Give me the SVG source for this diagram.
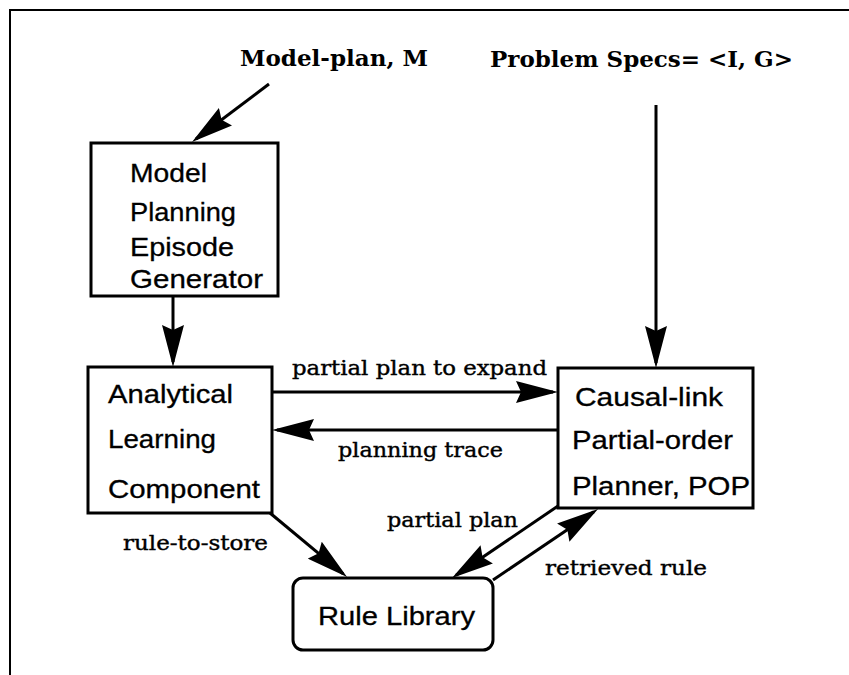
<svg xmlns="http://www.w3.org/2000/svg" width="849" height="675" viewBox="0 0 849 675">
  <style>
    .frame { fill: none; stroke: #000; stroke-width: 2; }
    .box { fill: #fff; stroke: #000; stroke-width: 3; }
    .btext { font-family: "Liberation Sans", Arial, sans-serif; font-size: 25px; fill: #000; stroke: #000; stroke-width: 0.3; }
    .title { font-family: "DejaVu Serif", "Liberation Serif", serif; font-weight: bold; font-size: 22px; fill: #000; }
    .label { font-family: "DejaVu Serif", "Liberation Serif", serif; font-size: 20px; fill: #000; stroke: #000; stroke-width: 0.4; }
    .edge { fill: none; stroke: #000; stroke-width: 3; marker-end: url(#head); }
  </style>
  <defs>
    <marker id="head" viewBox="0 0 42 22" refX="37" refY="11" markerWidth="42" markerHeight="22" markerUnits="userSpaceOnUse" orient="auto">
      <path d="M0,0 L42,11 L0,22 L5,11 Z" fill="#000"/>
    </marker>
  </defs>

  <rect width="849" height="675" fill="#fff"/>

  <!-- outer frame (open on the right and bottom) -->
  <path class="frame" d="M10,675 L10,10 L849,10"/>

  <!-- inputs -->
  <text class="title" x="240" y="66" textLength="188" lengthAdjust="spacingAndGlyphs">Model-plan, M</text>
  <text class="title" x="490" y="67" textLength="303" lengthAdjust="spacingAndGlyphs">Problem Specs= &lt;I, G&gt;</text>

  <g id="connectors">
    <path class="edge" d="M269,84 L196,139"/>
    <path class="edge" d="M173,296 L173,362"/>
    <path class="edge" d="M656,105 L656,363"/>
    <path class="edge" d="M272,392 L553,392"/>
    <path class="edge" d="M558,430 L277,430"/>
    <path class="edge" d="M270,513 L343.2,573.8"/>
    <path class="edge" d="M558,506 L456.1,575.2"/>
    <path class="edge" d="M493,580 L593.9,511.8"/>

    <text class="label" x="292" y="375" textLength="255" lengthAdjust="spacingAndGlyphs">partial plan to expand</text>
    <text class="label" x="338" y="457" textLength="165" lengthAdjust="spacingAndGlyphs">planning trace</text>
    <text class="label" x="123" y="550" textLength="145" lengthAdjust="spacingAndGlyphs">rule-to-store</text>
    <text class="label" x="387" y="527" textLength="131" lengthAdjust="spacingAndGlyphs">partial plan</text>
    <text class="label" x="545" y="575" textLength="162" lengthAdjust="spacingAndGlyphs">retrieved rule</text>
  </g>

  <g id="episode-generator">
    <rect class="box" x="91" y="143" width="187" height="153"/>
    <text class="btext" x="130" y="182" textLength="77" lengthAdjust="spacingAndGlyphs">Model</text>
    <text class="btext" x="130" y="221" textLength="106" lengthAdjust="spacingAndGlyphs">Planning</text>
    <text class="btext" x="130" y="256" textLength="104" lengthAdjust="spacingAndGlyphs">Episode</text>
    <text class="btext" x="130" y="288" textLength="133" lengthAdjust="spacingAndGlyphs">Generator</text>
  </g>

  <g id="learning-component">
    <rect class="box" x="88" y="367" width="184" height="146"/>
    <text class="btext" x="108" y="403" textLength="125" lengthAdjust="spacingAndGlyphs">Analytical</text>
    <text class="btext" x="108" y="448" textLength="108" lengthAdjust="spacingAndGlyphs">Learning</text>
    <text class="btext" x="108" y="498" textLength="152" lengthAdjust="spacingAndGlyphs">Component</text>
  </g>

  <g id="planner">
    <rect class="box" x="558" y="368" width="195" height="140"/>
    <text class="btext" x="575" y="406" textLength="148" lengthAdjust="spacingAndGlyphs">Causal-link</text>
    <text class="btext" x="572" y="449" textLength="161" lengthAdjust="spacingAndGlyphs">Partial-order</text>
    <text class="btext" x="572" y="495" textLength="178" lengthAdjust="spacingAndGlyphs">Planner, POP</text>
  </g>

  <g id="rule-library">
    <rect class="box" x="293" y="578" width="200" height="72" rx="10" ry="10"/>
    <text class="btext" x="318" y="625" textLength="157" lengthAdjust="spacingAndGlyphs">Rule Library</text>
  </g>
</svg>
